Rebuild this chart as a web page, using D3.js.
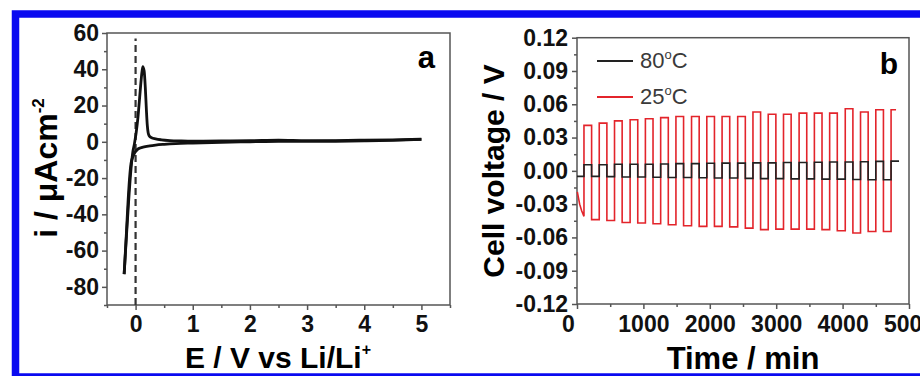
<!DOCTYPE html>
<html>
<head>
<meta charset="utf-8">
<script src="https://cdn.jsdelivr.net/npm/d3@7"></script>
<style>
  body { margin: 0; background: #fff; }
  svg { display: block; font-family: "Liberation Sans", Arial, sans-serif; }
</style>
</head>
<body>
<div id="chart-area"></div>
<script>
// --- Panel a: cyclic voltammogram ---
var cvForwardE = [-0.2, -0.16, -0.12, -0.08, -0.05, -0.02, 0.01, 0.04, 0.07, 0.1, 0.125, 0.15, 0.17, 0.19, 0.205, 0.22, 0.24, 0.28, 0.35, 0.45, 0.6, 0.8, 1.0, 1.5, 2.0, 2.5, 3.0, 3.5, 4.0, 4.5, 5.0];
var cvForwardI = [-73, -52, -32, -15, -6, -1, 5, 13, 24, 35, 41.5, 39, 30, 17, 9, 5, 3.2, 2.2, 1.6, 1.1, 0.7, 0.5, 0.4, 0.5, 0.6, 0.9, 0.6, 0.7, 0.9, 1.1, 1.4];
var cvReverseE = [5.0, 4.5, 4.0, 3.5, 3.0, 2.5, 2.0, 1.5, 1.0, 0.7, 0.5, 0.35, 0.25, 0.15, 0.08, 0.03, -0.01, -0.05, -0.08, -0.1, -0.13, -0.16, -0.2];
var cvReverseI = [1.3, 0.8, 0.5, 0.3, 0.2, 0.3, 0.0, -0.3, -0.7, -1.0, -1.4, -1.8, -2.2, -2.8, -3.4, -4.3, -5.8, -8.5, -12, -18, -32, -50, -73];
var refLineE = [0, 0];
var refLineI = [-90, 57];
var aXTicks = [0, 1, 2, 3, 4, 5];
var aXMinor = [-0.5, 0.5, 1.5, 2.5, 3.5, 4.5, 5.5];
var aYTicks = [-80, -60, -40, -20, 0, 20, 40, 60];
var aYMinor = [-90, -70, -50, -30, -10, 10, 30, 50];

// --- Panel b: cell voltage vs time ---
var riseTimes = [105, 335, 565, 800, 1030, 1260, 1490, 1725, 1955, 2185, 2420, 2650, 2880, 3110, 3345, 3575, 3805, 4040, 4270, 4500, 4730];
var fallTimes = [220, 450, 680, 915, 1145, 1375, 1605, 1840, 2070, 2300, 2535, 2765, 2995, 3225, 3460, 3690, 3920, 4155, 4385, 4615];
var redStartT = [5, 40, 70, 105];
var redStartV = [-0.019, -0.03, -0.036, -0.041];
var redHigh = [0.041, 0.043, 0.045, 0.046, 0.047, 0.048, 0.049, 0.049, 0.049, 0.049, 0.049, 0.053, 0.051, 0.051, 0.052, 0.052, 0.052, 0.056, 0.053, 0.055, 0.055];
var redLow = [-0.044, -0.0447, -0.0465, -0.047, -0.0477, -0.0486, -0.0495, -0.05, -0.05, -0.0505, -0.0516, -0.053, -0.0525, -0.0525, -0.0525, -0.053, -0.054, -0.056, -0.0546, -0.0546];
var redEnd = 4805;
var blackHigh = [0.0055, 0.0055, 0.006, 0.006, 0.006, 0.0062, 0.0065, 0.0065, 0.0068, 0.007, 0.007, 0.0072, 0.0072, 0.0075, 0.0075, 0.0078, 0.008, 0.008, 0.0082, 0.0085, 0.0088];
var blackLow = [-0.005, -0.005, -0.0052, -0.0055, -0.0055, -0.0058, -0.006, -0.006, -0.0062, -0.0065, -0.0065, -0.0068, -0.007, -0.007, -0.0072, -0.0072, -0.0075, -0.0075, -0.0078, -0.008, -0.008];
var blackEnd = 4850;
var bXTicks = [0, 1000, 2000, 3000, 4000, 5000];
var bXMinor = [500, 1500, 2500, 3500, 4500];
var bYTicks = [-0.12, -0.09, -0.06, -0.03, 0, 0.03, 0.06, 0.09, 0.12];
var bYMinor = [-0.105, -0.075, -0.045, -0.015, 0.015, 0.045, 0.075, 0.105];
var legendTemps = ["80", "25"];
var legendColors = ["#222222", "#e3242b"];

// --- Setup the canvas ---
var canvasWidth = 920;
var canvasHeight = 376;
var canvas = d3.select("#chart-area").append("svg")
  .attr("width", canvasWidth)
  .attr("height", canvasHeight);

canvas.append("rect")
  .attr("width", canvasWidth).attr("height", canvasHeight)
  .attr("fill", "#fff");

var frameColor = "#555";
var tickFont = 23;
var titleFont = 30;

function drawAxes(x, y, opts) {
  var x0 = x.range()[0], x1 = x.range()[1];
  var y0 = y.range()[1], y1 = y.range()[0];

  // minor ticks
  canvas.append("g")
    .attr("transform", "translate(0," + y1 + ")")
    .call(d3.axisBottom(x).tickValues(opts.xMinor).tickSize(3).tickFormat(""))
    .call(function (g) { g.select(".domain").remove(); })
    .selectAll("line").attr("stroke", frameColor).attr("stroke-width", 1.5);
  canvas.append("g")
    .attr("transform", "translate(" + x0 + ",0)")
    .call(d3.axisLeft(y).tickValues(opts.yMinor).tickSize(3).tickFormat(""))
    .call(function (g) { g.select(".domain").remove(); })
    .selectAll("line").attr("stroke", frameColor).attr("stroke-width", 1.5);

  // major ticks + labels
  var xg = canvas.append("g")
    .attr("transform", "translate(0," + y1 + ")")
    .call(d3.axisBottom(x).tickValues(opts.xTicks).tickSize(5).tickPadding(opts.xPad).tickFormat(opts.xFormat));
  var yg = canvas.append("g")
    .attr("transform", "translate(" + x0 + ",0)")
    .call(d3.axisLeft(y).tickValues(opts.yTicks).tickSize(5).tickPadding(opts.yPad).tickFormat(opts.yFormat));

  [xg, yg].forEach(function (g) {
    g.select(".domain").remove();
    g.attr("font-family", null).attr("font-size", null);
    g.selectAll("line").attr("stroke", frameColor).attr("stroke-width", 1.5);
    g.selectAll("text")
      .attr("font-size", tickFont + "px")
      .attr("font-weight", "bold")
      .attr("fill", "#111");
  });

  // box frame
  canvas.append("rect")
    .attr("x", x0).attr("y", y0)
    .attr("width", x1 - x0).attr("height", y1 - y0)
    .attr("fill", "none")
    .attr("stroke", frameColor)
    .attr("stroke-width", 1.5);
  return xg;
}

// ===== Panel a =====
var xA = d3.scaleLinear().domain([-0.5, 5.5]).range([107, 450]);
var yA = d3.scaleLinear().domain([-90, 60]).range([305, 33]);

drawAxes(xA, yA, {
  xTicks: aXTicks, xMinor: aXMinor, yTicks: aYTicks, yMinor: aYMinor,
  xPad: 6, yPad: 3,
  xFormat: function (d) { return String(d); },
  yFormat: function (d) { return String(d); }
});

var refLine = d3.zip(refLineE, refLineI);
canvas.append("path")
  .datum(refLine)
  .attr("d", d3.line().x(function (d) { return xA(d[0]); }).y(function (d) { return yA(d[1]); }))
  .attr("fill", "none")
  .attr("stroke", "#333")
  .attr("stroke-width", 2.2)
  .attr("stroke-dasharray", "7,4");

var cvLine = d3.line()
  .x(function (d) { return xA(d[0]); })
  .y(function (d) { return yA(d[1]); })
  .curve(d3.curveMonotoneX);

[d3.zip(cvForwardE, cvForwardI), d3.zip(cvReverseE, cvReverseI)].forEach(function (branch) {
  canvas.append("path")
    .datum(branch)
    .attr("d", cvLine)
    .attr("fill", "none")
    .attr("stroke", "#111")
    .attr("stroke-width", 2.8)
    .attr("stroke-linejoin", "round");
});

canvas.append("text")
  .attr("x", 435).attr("y", 68)
  .attr("text-anchor", "end")
  .attr("font-size", "31px").attr("font-weight", "bold")
  .text("a");

var aYTitle = canvas.append("text")
  .attr("transform", "translate(57,168) rotate(-90)")
  .attr("text-anchor", "middle")
  .attr("font-size", "32px").attr("font-weight", "bold");
aYTitle.append("tspan").text("i / \u03bcAcm");
aYTitle.append("tspan").attr("dy", -13).attr("font-size", "17px").text("-2");

var aXTitle = canvas.append("text")
  .attr("x", 278).attr("y", 368)
  .attr("text-anchor", "middle")
  .attr("font-size", titleFont + "px").attr("font-weight", "bold");
aXTitle.append("tspan").text("E / V vs Li/Li");
aXTitle.append("tspan").attr("dy", -13).attr("font-size", "16px").text("+");

// ===== Panel b =====
var xB = d3.scaleLinear().domain([0, 5000]).range([577, 909]);
var yB = d3.scaleLinear().domain([-0.12, 0.12]).range([304, 37.7]);

var bxg = drawAxes(xB, yB, {
  xTicks: bXTicks, xMinor: bXMinor, yTicks: bYTicks, yMinor: bYMinor,
  xPad: 7, yPad: 4,
  xFormat: function (d) { return String(d); },
  yFormat: function (d) { return d.toFixed(2); }
});
bxg.selectAll("text").filter(function (d) { return d === 0; }).attr("dx", -9);

// build the step traces from the switching times
var redPts = d3.zip(redStartT, redStartV);
riseTimes.forEach(function (t, i) {
  var end = i < fallTimes.length ? fallTimes[i] : redEnd;
  redPts.push([t, redHigh[i]], [end, redHigh[i]]);
  if (i < fallTimes.length) {
    redPts.push([fallTimes[i], redLow[i]], [riseTimes[i + 1], redLow[i]]);
  }
});

var blackPts = [[0, blackLow[0]], [riseTimes[0], blackLow[0]]];
riseTimes.forEach(function (t, i) {
  var end = i < fallTimes.length ? fallTimes[i] : blackEnd;
  blackPts.push([t, blackHigh[i]], [end, blackHigh[i]]);
  if (i < fallTimes.length) {
    blackPts.push([fallTimes[i], blackLow[i + 1]], [riseTimes[i + 1], blackLow[i + 1]]);
  }
});

var stepLine = d3.line()
  .x(function (d) { return xB(d[0]); })
  .y(function (d) { return yB(d[1]); });

canvas.append("path")
  .datum(redPts)
  .attr("d", stepLine)
  .attr("fill", "none")
  .attr("stroke", legendColors[1])
  .attr("stroke-width", 1.6);

canvas.append("path")
  .datum(blackPts)
  .attr("d", stepLine)
  .attr("fill", "none")
  .attr("stroke", legendColors[0])
  .attr("stroke-width", 1.6);

// legend
legendTemps.forEach(function (temp, i) {
  var row = canvas.append("g")
    .attr("transform", "translate(597," + (61 + i * 36) + ")");
  row.append("line")
    .attr("x1", 0).attr("x2", 36)
    .attr("stroke", legendColors[i])
    .attr("stroke-width", 2.2);
  var txt = row.append("text")
    .attr("x", 43).attr("y", 7)
    .attr("font-size", "22px")
    .attr("fill", "#3a3a3a");
  txt.append("tspan").text(temp);
  txt.append("tspan").attr("dy", -9).attr("font-size", "13px").text("o");
  txt.append("tspan").attr("dy", 9).text("C");
});

canvas.append("text")
  .attr("x", 898).attr("y", 74)
  .attr("text-anchor", "end")
  .attr("font-size", "30px").attr("font-weight", "bold")
  .text("b");

canvas.append("text")
  .attr("transform", "translate(504,171) rotate(-90)")
  .attr("text-anchor", "middle")
  .attr("font-size", "30px").attr("font-weight", "bold")
  .text("Cell voltage / V");

canvas.append("text")
  .attr("x", 743).attr("y", 369)
  .attr("text-anchor", "middle")
  .attr("font-size", "31px").attr("font-weight", "bold")
  .text("Time / min");

// --- Blue figure border ---
canvas.append("rect")
  .attr("x", 15.5).attr("y", 14)
  .attr("width", 1000).attr("height", 363)
  .attr("fill", "none")
  .attr("stroke", "#0a0af0")
  .attr("stroke-width", 7.5);
</script>
</body>
</html>
